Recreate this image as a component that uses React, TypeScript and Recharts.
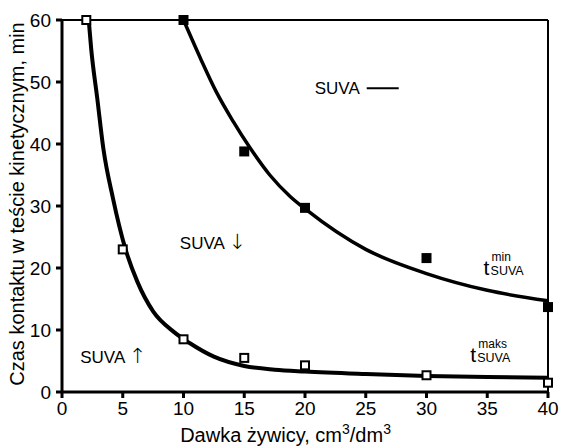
import React from 'react';
import {
  ComposedChart,
  Line,
  Scatter,
  XAxis,
  YAxis,
  ReferenceLine,
  ReferenceDot,
} from 'recharts';

// measured points (dose, contact time)
const doseMin = [10, 15, 20, 30, 40];
const timeMin = [60, 38.8, 29.7, 21.6, 13.7];
const doseMax = [2, 5, 10, 15, 20, 30, 40];
const timeMax = [60, 23, 8.5, 5.5, 4.3, 2.7, 1.5];

// fitted curves
const fitMinX = [10, 11.4, 12.7, 14.1, 15.5, 17.1, 18.8, 20.1, 25, 30, 35, 40];
const fitMinY = [60, 53.8, 48.4, 43.6, 39.3, 35, 31.5, 29.4, 23, 19.1, 16.4, 14.7];
const fitMaxX = [2.2, 2.4, 2.9, 3.4, 4.2, 5.2, 6.2, 7.5, 9.2, 10.5, 12.5, 15, 17.5, 20, 25, 30, 35, 40];
const fitMaxY = [60, 55.4, 47.4, 39.3, 31.2, 23.2, 17.8, 13, 9.7, 7.9, 5.7, 4.2, 3.6, 3.3, 2.9, 2.6, 2.4, 2.3];

const xTicks = [0, 5, 10, 15, 20, 25, 30, 35, 40];
const yTicks = [0, 10, 20, 30, 40, 50, 60];

const zip = (xs: number[], ys: number[]) => xs.map((x, i) => ({ x, y: ys[i] }));

const FONT = 'Arial, "Liberation Sans", sans-serif';

const FilledSquare = (p: any) => (
  <rect x={p.cx - 5} y={p.cy - 5} width={10} height={10} fill="#000" />
);
const OpenSquare = (p: any) => (
  <rect x={p.cx - 4} y={p.cy - 4} width={8} height={8} fill="#fff" stroke="#000" strokeWidth={2} />
);

const suvaLabel = (arrow: string) => (p: any) => (
  <text x={p.cx} y={p.cy} dy="0.35em" fontSize={17} fontFamily={FONT} fill="#000">
    SUVA{' '}
    <tspan fontFamily='"DejaVu Sans", sans-serif' fontSize={21} fontWeight={300}>
      {arrow}
    </tspan>
  </text>
);

const suvaDash = (p: any) => (
  <g>
    <text x={p.cx} y={p.cy} dy="0.35em" fontSize={17} fontFamily={FONT} fill="#000">
      SUVA
    </text>
    <line x1={p.cx + 52} x2={p.cx + 84} y1={p.cy} y2={p.cy} stroke="#000" strokeWidth={2} />
  </g>
);

const tLabel = (sup: string) => (p: any) => (
  <g fontFamily={FONT} fill="#000">
    <text x={p.cx} y={p.cy} fontSize={21}>t</text>
    <text x={p.cx + 8} y={p.cy - 14} fontSize={12}>{sup}</text>
    <text x={p.cx + 7} y={p.cy} fontSize={12.5}>SUVA</text>
  </g>
);

export default function App() {
  const minPts = zip(doseMin, timeMin);
  const maxPts = zip(doseMax, timeMax);
  const fitMin = zip(fitMinX, fitMinY);
  const fitMax = zip(fitMaxX, fitMaxY);

  return (
    <div style={{ position: 'absolute', left: 0, top: 0, background: '#fff' }}>
      <ComposedChart width={562} height={448} margin={{ top: 20, right: 14, bottom: 0, left: 0 }}>
        <XAxis
          type="number"
          dataKey="x"
          domain={[0, 40]}
          ticks={xTicks}
          height={56}
          stroke="#000"
          strokeWidth={3}
          tickSize={6}
          tickMargin={4}
          tick={{ fill: '#000', fontSize: 19, fontFamily: FONT }}
          label={{
            content: (props: any) => {
              const vb = props.viewBox;
              return (
                <text
                  x={vb.x + vb.width * 0.46}
                  y={vb.y + 50}
                  textAnchor="middle"
                  fontSize={20}
                  fontFamily={FONT}
                  fill="#000"
                >
                  <tspan>Dawka żywicy, cm</tspan>
                  <tspan fontSize={14} dy={-8}>3</tspan>
                  <tspan dy={8}>/dm</tspan>
                  <tspan fontSize={14} dy={-8}>3</tspan>
                </text>
              );
            },
          }}
        />
        <YAxis
          type="number"
          domain={[0, 60]}
          ticks={yTicks}
          width={62}
          stroke="#000"
          strokeWidth={3}
          tickSize={6}
          tickMargin={5}
          tick={{ fill: '#000', fontSize: 19, fontFamily: FONT }}
          label={{
            content: (props: any) => {
              const vb = props.viewBox;
              const cx = vb.x + 17;
              const cy = vb.y + vb.height / 2 - 2;
              return (
                <text
                  x={cx}
                  y={cy}
                  transform={`rotate(-90 ${cx} ${cy})`}
                  textAnchor="middle"
                  dominantBaseline="central"
                  fontSize={20}
                  fontFamily={FONT}
                  fill="#000"
                >
                  Czas kontaktu w teście kinetycznym, min
                </text>
              );
            },
          }}
        />
        <ReferenceLine y={60} stroke="#000" strokeWidth={2} />
        <ReferenceLine x={40} stroke="#000" strokeWidth={2} />

        <Line
          data={fitMin}
          dataKey="y"
          type="monotone"
          stroke="#000"
          strokeWidth={3.5}
          dot={false}
          isAnimationActive={false}
        />
        <Line
          data={fitMax}
          dataKey="y"
          type="monotone"
          stroke="#000"
          strokeWidth={4}
          dot={false}
          isAnimationActive={false}
        />
        <Scatter data={minPts} dataKey="y" shape={FilledSquare} isAnimationActive={false} />
        <Scatter data={maxPts} dataKey="y" shape={OpenSquare} isAnimationActive={false} />

        <ReferenceDot x={20.8} y={49} shape={suvaDash} />
        <ReferenceDot x={9.7} y={24.1} shape={suvaLabel('↓')} />
        <ReferenceDot x={1.5} y={5.7} shape={suvaLabel('↑')} />
        <ReferenceDot x={34.7} y={18.9} shape={tLabel('min')} />
        <ReferenceDot x={33.6} y={4.9} shape={tLabel('maks')} />
      </ComposedChart>
    </div>
  );
}
